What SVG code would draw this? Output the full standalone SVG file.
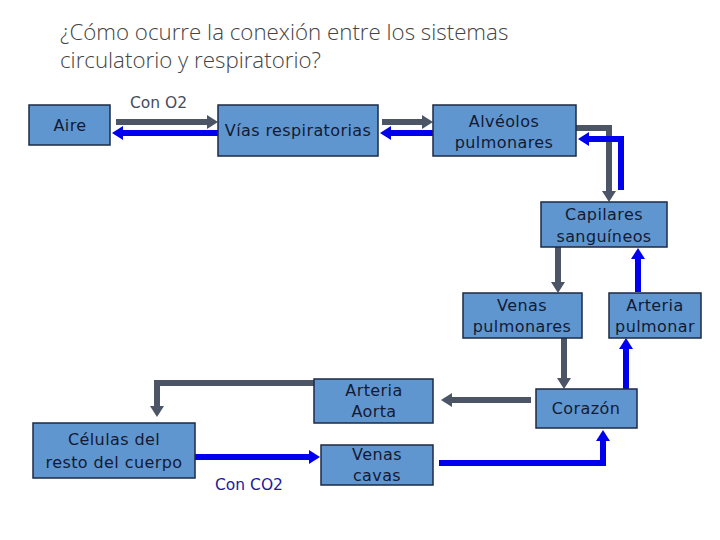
<svg xmlns="http://www.w3.org/2000/svg" width="720" height="540" viewBox="0 0 720 540">
<style>
.box{fill:#5f96d0;stroke:#1c2a44;stroke-width:1.5}
.t{font-family:"DejaVu Sans","Liberation Sans",sans-serif;font-size:16px;letter-spacing:0.4px;fill:#141a33;text-anchor:middle}
.title{font-family:"Open Sans","Liberation Sans",sans-serif;font-weight:300;font-size:22.3px;fill:#444444}
.g{fill:none;stroke:#4b5566;stroke-width:6}
.b{fill:none;stroke:#0000ee;stroke-width:6}
</style>
<defs>
<marker id="ag" markerUnits="userSpaceOnUse" markerWidth="11" markerHeight="14" refX="0" refY="7" orient="auto"><path d="M0,0 L11,7 L0,14 z" fill="#4b5566"/></marker>
<marker id="ab" markerUnits="userSpaceOnUse" markerWidth="11" markerHeight="14" refX="0" refY="7" orient="auto"><path d="M0,0 L11,7 L0,14 z" fill="#0000ee"/></marker>
</defs>
<rect width="720" height="540" fill="#ffffff"/>
<text class="title" x="60" y="40">¿Cómo ocurre la conexión entre los sistemas</text>
<text class="title" x="60" y="68">circulatorio y respiratorio?</text>
<g id="connectors">
<path class="g" d="M116,122 H207" marker-end="url(#ag)"/>
<path class="b" d="M218,133 H123" marker-end="url(#ab)"/>
<path class="g" d="M382,122 H422" marker-end="url(#ag)"/>
<path class="b" d="M433,133 H391" marker-end="url(#ab)"/>
<path class="g" d="M576,128 H609 V191" marker-end="url(#ag)"/>
<path class="b" d="M621,190 V139 H589" marker-end="url(#ab)"/>
<path class="g" d="M558,247 V282" marker-end="url(#ag)"/>
<path class="b" d="M638,292 V259" marker-end="url(#ab)"/>
<path class="g" d="M564,338 V378" marker-end="url(#ag)"/>
<path class="b" d="M626,389 V349" marker-end="url(#ab)"/>
<path class="g" d="M531,400 H452" marker-end="url(#ag)"/>
<path class="g" d="M314,383 H157 V406" marker-end="url(#ag)"/>
<path class="b" d="M195,457 H309" marker-end="url(#ab)"/>
<path class="b" d="M439,463 H603 V441" marker-end="url(#ab)"/>
<text x="130" y="108" font-family="DejaVu Sans,sans-serif" font-size="15.5" fill="#444c5c">Con O2</text>
<text x="215" y="490" font-family="DejaVu Sans,sans-serif" font-size="15.5" fill="#1a1a9a">Con CO2</text>
</g>
<g id="aire"><rect class="box" x="29" y="105" width="81" height="40"/><text class="t" x="70" y="131">Aire</text></g>
<g id="vias"><rect class="box" x="218" y="105" width="160" height="51"/><text class="t" x="298" y="136">Vías respiratorias</text></g>
<g id="alveolos"><rect class="box" x="433" y="105" width="143" height="51"/><text class="t" x="504" y="127">Alvéolos</text><text class="t" x="504" y="148">pulmonares</text></g>
<g id="capilares"><rect class="box" x="541" y="202" width="126" height="45"/><text class="t" x="604" y="220">Capilares</text><text class="t" x="604" y="242">sanguíneos</text></g>
<g id="venas-pulmonares"><rect class="box" x="463" y="293" width="119" height="45"/><text class="t" x="522" y="311">Venas</text><text class="t" x="522" y="332">pulmonares</text></g>
<g id="arteria-pulmonar"><rect class="box" x="609" y="293" width="92" height="45"/><text class="t" x="655" y="311">Arteria</text><text class="t" x="655" y="332">pulmonar</text></g>
<g id="corazon"><rect class="box" x="536" y="389" width="101" height="39"/><text class="t" x="586" y="414">Corazón</text></g>
<g id="aorta"><rect class="box" x="314" y="379" width="119" height="44"/><text class="t" x="374" y="396">Arteria</text><text class="t" x="374" y="417">Aorta</text></g>
<g id="celulas"><rect class="box" x="33" y="423" width="162" height="55"/><text class="t" x="114" y="445">Células del</text><text class="t" x="114" y="468">resto del cuerpo</text></g>
<g id="venas-cavas"><rect class="box" x="321" y="445" width="112" height="40"/><text class="t" x="377" y="460">Venas</text><text class="t" x="377" y="481">cavas</text></g>
</svg>
